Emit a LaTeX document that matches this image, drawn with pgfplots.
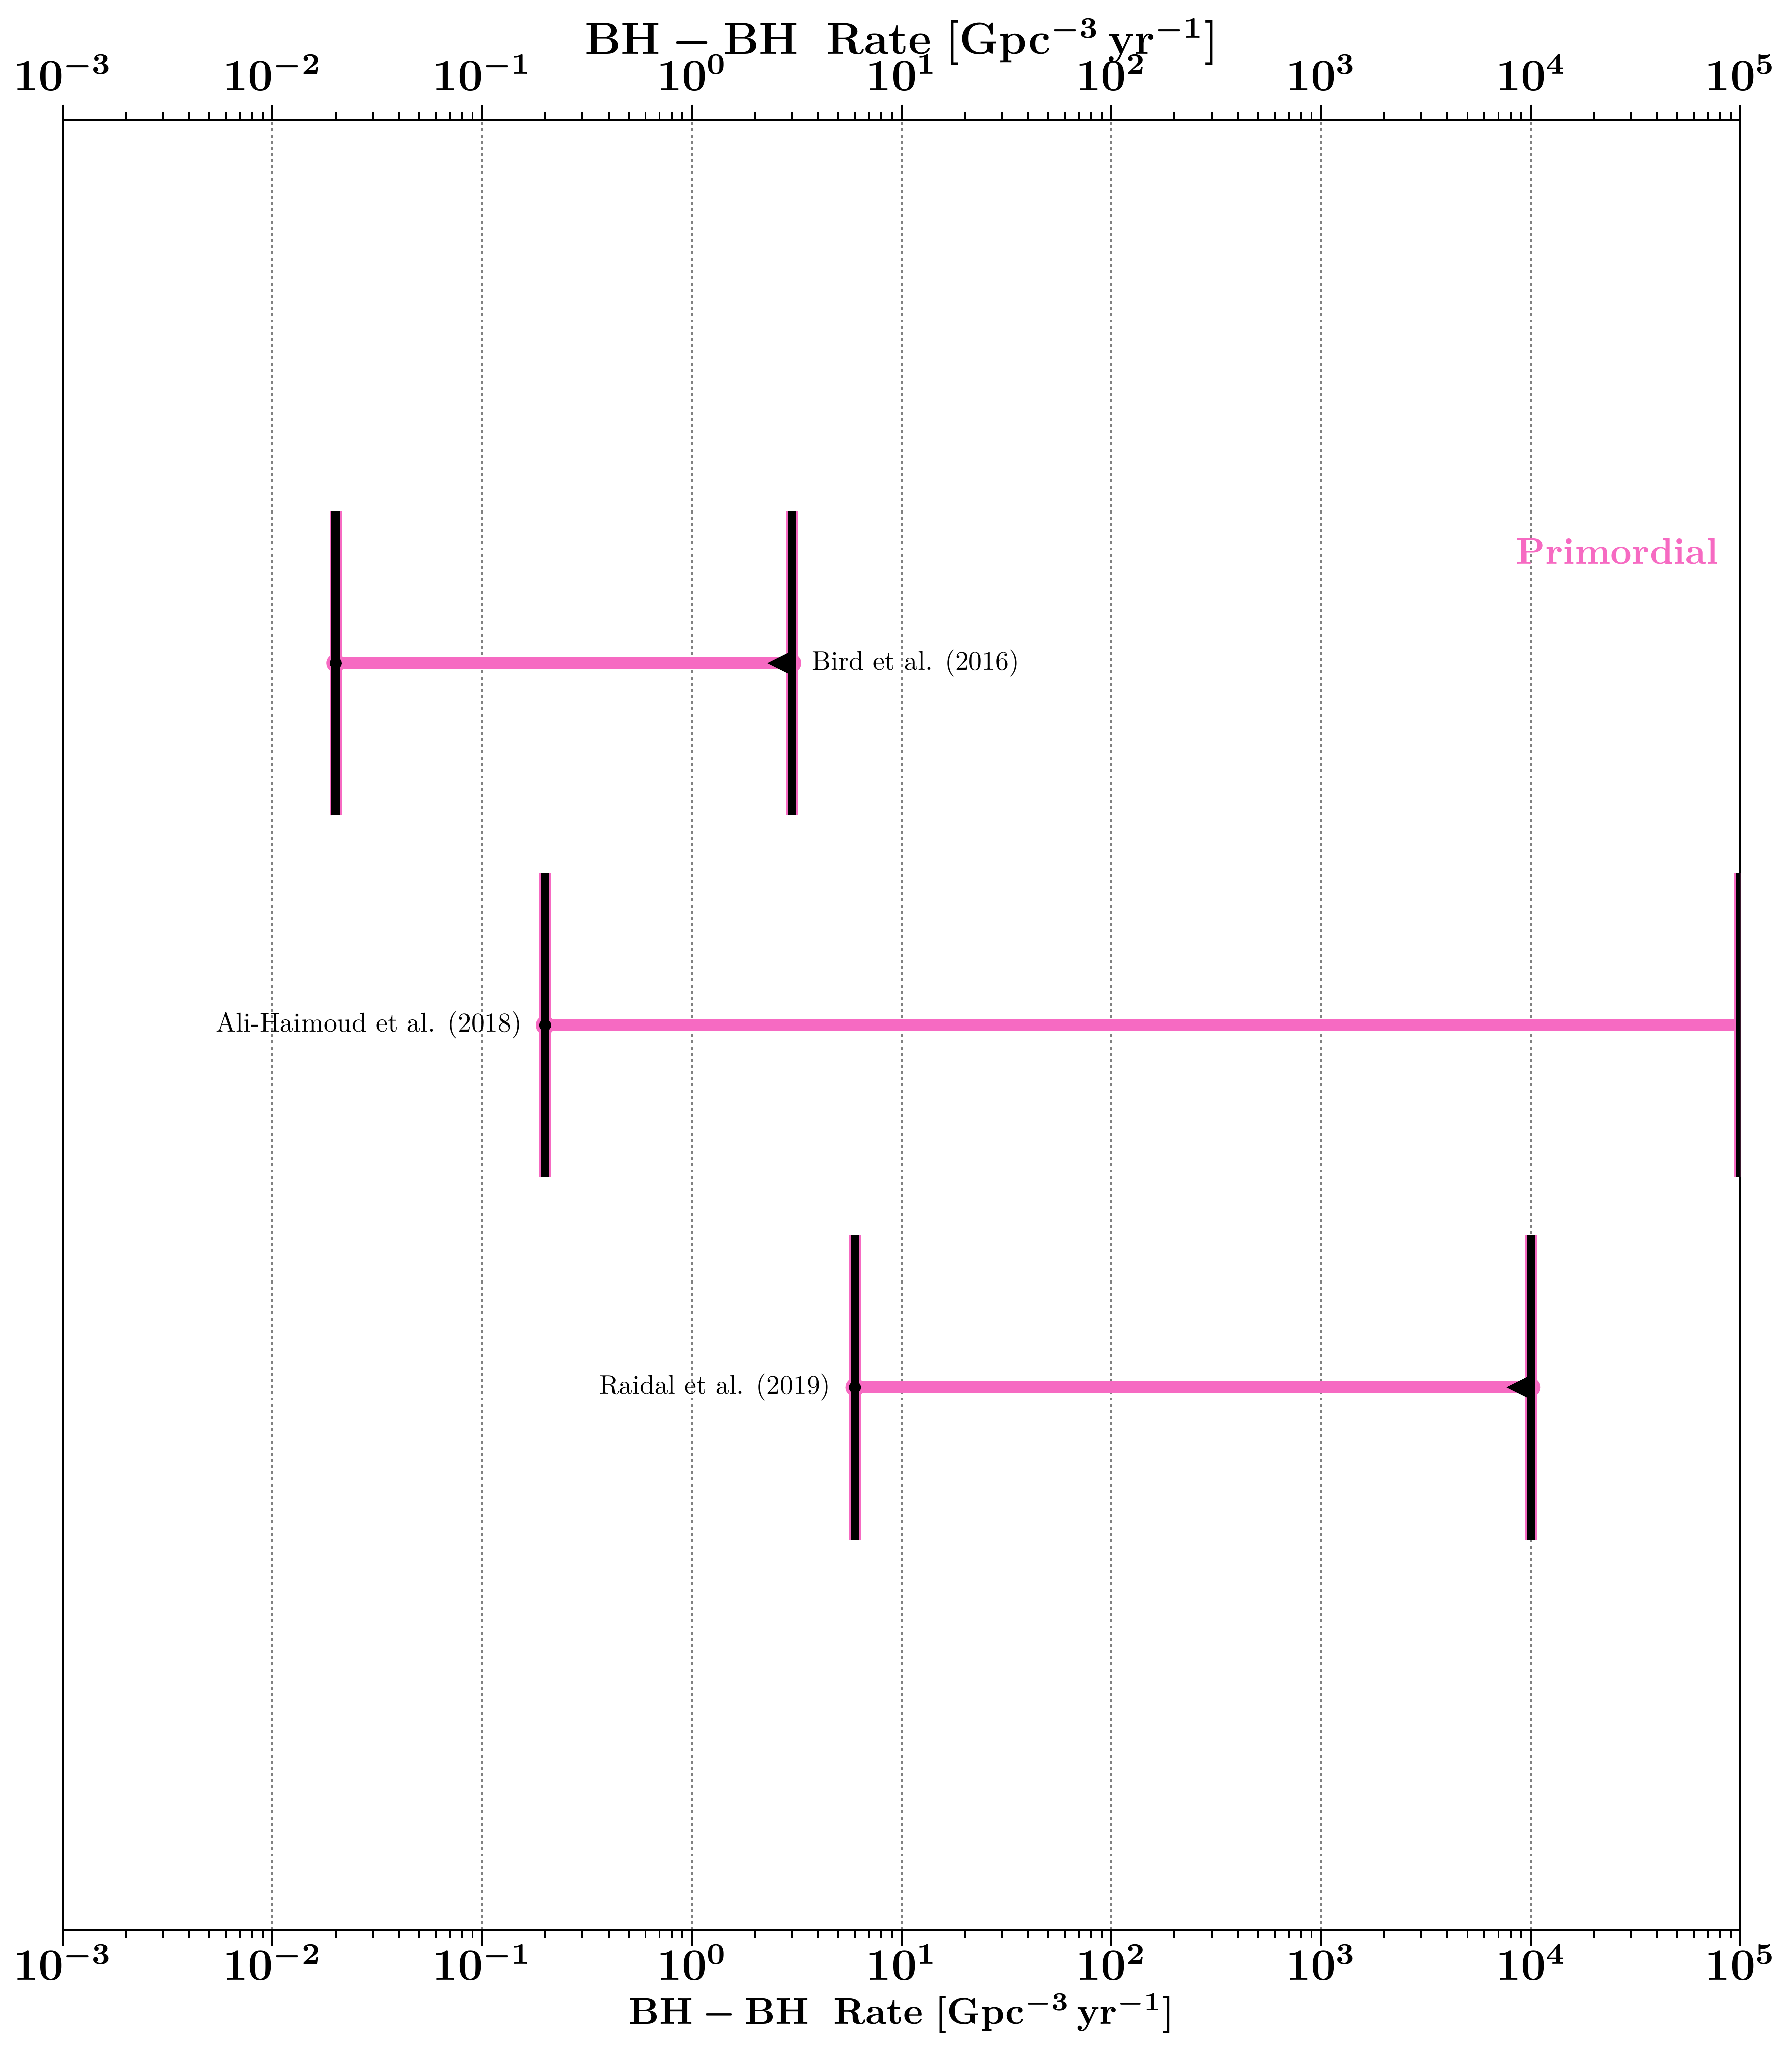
\documentclass[border=0pt]{standalone}
\usepackage{pgfplots}
\pgfplotsset{compat=1.18}
\definecolor{pk}{HTML}{F66AC2}
\pgfdeclareplotmark{ltri}{%
  \pgfpathmoveto{\pgfqpoint{-6.6pt}{0pt}}%
  \pgfpathlineto{\pgfqpoint{0.9pt}{-3.75pt}}%
  \pgfpathlineto{\pgfqpoint{0.9pt}{3.75pt}}%
  \pgfpathclose\pgfusepathqfill}
\begin{document}
\begin{tikzpicture}
\begin{axis}[
    scale only axis, width=449.5pt, height=484.8pt,
    xmode=log, xmin=1e-3, xmax=1e5, ymin=-0.5, ymax=4.5,
    xtick={1e-3,1e-2,1e-1,1,1e1,1e2,1e3,1e4,1e5},
    xticklabels={$10^{-3}$,$10^{-2}$,$10^{-1}$,$10^{0}$,$10^{1}$,$10^{2}$,$10^{3}$,$10^{4}$,$10^{5}$},
    tick align=outside,
    major tick length=4.2pt, minor tick length=2.1pt,
    every tick/.append style={black, line width=0.5pt},
    axis line style={line width=0.5pt},
    xticklabel style={font=\fontsize{12}{14}\selectfont\boldmath, anchor=base, yshift=-9.2pt},
    xlabel={$\mathbf{BH-BH\ \ Rate\ [Gpc^{-3}\,yr^{-1}]}$},
    xlabel style={font=\fontsize{9.75}{12}\selectfont\boldmath, at={(axis description cs:0.5,0)}, anchor=base, yshift=-25.2pt},
    ytick=\empty,
    name=ax, xtick pos=bottom, xmajorgrids,
    grid style={gray, line width=0.6pt, dash pattern=on 0.8pt off 0.85pt},
    clip mode=individual]
% Bird et al. (2016)
\addplot[pk, line width=3.2pt, mark=*, mark size=2.5pt, mark options={solid, fill=pk, line width=0.01pt}] coordinates {(0.02,3) (3,3)};
\addplot[pk, line width=3.2pt] coordinates {(0.02,2.58) (0.02,3.42)};
\addplot[black, line width=2.3pt] coordinates {(0.02,2.58) (0.02,3.42)};
\addplot[pk, line width=3.2pt] coordinates {(3,2.58) (3,3.42)};
\addplot[black, line width=2.3pt] coordinates {(3,2.58) (3,3.42)};
\addplot[only marks, mark=*, mark size=1.4pt, black] coordinates {(0.02,3)};
\addplot[only marks, mark=ltri, black] coordinates {(3,3)};
% Ali-Haimoud et al. (2018)
\addplot[pk, line width=3.2pt, mark=*, mark size=2.5pt, mark indices={1}, mark options={solid, fill=pk, line width=0.01pt}] coordinates {(0.2,2) (1e5,2)};
\addplot[pk, line width=3.2pt] coordinates {(0.2,1.58) (0.2,2.42)};
\addplot[black, line width=2.3pt] coordinates {(0.2,1.58) (0.2,2.42)};
\addplot[pk, line width=3.2pt] coordinates {(1e5,1.58) (1e5,2.42)};
\addplot[black, line width=2.3pt] coordinates {(1e5,1.58) (1e5,2.42)};
\addplot[only marks, mark=*, mark size=1.4pt, black] coordinates {(0.2,2)};
% Raidal et al. (2019)
\addplot[pk, line width=3.2pt, mark=*, mark size=2.5pt, mark options={solid, fill=pk, line width=0.01pt}] coordinates {(6,1) (1e4,1)};
\addplot[pk, line width=3.2pt] coordinates {(6,0.58) (6,1.42)};
\addplot[black, line width=2.3pt] coordinates {(6,0.58) (6,1.42)};
\addplot[pk, line width=3.2pt] coordinates {(1e4,0.58) (1e4,1.42)};
\addplot[black, line width=2.3pt] coordinates {(1e4,0.58) (1e4,1.42)};
\addplot[only marks, mark=*, mark size=1.4pt, black] coordinates {(6,1)};
\addplot[only marks, mark=ltri, black] coordinates {(1e4,1)};
% labels
\node[anchor=west, inner sep=0pt, font=\fontsize{10}{12}\selectfont, xshift=5.2pt] at (axis cs:3,3) {\scalebox{0.72}{Bird et al. (2016)}};
\node[anchor=east, inner sep=0pt, font=\fontsize{10}{12}\selectfont, xshift=-6pt] at (axis cs:0.2,2) {\scalebox{0.72}{Ali-Haimoud et al. (2018)}};
\node[anchor=east, inner sep=0pt, font=\fontsize{10}{12}\selectfont, xshift=-6.3pt] at (axis cs:6,1) {\scalebox{0.72}{Raidal et al. (2019)}};
\node[anchor=east, inner sep=0pt, text=pk, font=\fontsize{10}{12}\selectfont\bfseries] at (axis cs:7.9e4,3.31) {Primordial};
\end{axis}
\begin{axis}[
    scale only axis, width=449.5pt, height=484.8pt,
    xmode=log, xmin=1e-3, xmax=1e5, ymin=-0.5, ymax=4.5,
    xtick={1e-3,1e-2,1e-1,1,1e1,1e2,1e3,1e4,1e5},
    xticklabels={$10^{-3}$,$10^{-2}$,$10^{-1}$,$10^{0}$,$10^{1}$,$10^{2}$,$10^{3}$,$10^{4}$,$10^{5}$},
    tick align=outside,
    major tick length=4.2pt, minor tick length=2.1pt,
    every tick/.append style={black, line width=0.5pt},
    axis line style={line width=0.5pt},
    xticklabel style={font=\fontsize{12}{14}\selectfont\boldmath, anchor=base, yshift=3.8pt},
    xlabel={$\mathbf{BH-BH\ \ Rate\ [Gpc^{-3}\,yr^{-1}]}$},
    xlabel style={font=\fontsize{11.6}{14}\selectfont\boldmath, at={(axis description cs:0.5,1)}, anchor=base, yshift=17.7pt},
    ytick=\empty,
    axis x line*=top, axis y line=none, xticklabel pos=upper]
\end{axis}
\pgfresetboundingbox
\path ([shift={(-16.8pt,-32.6pt)}]ax.south west) rectangle ([shift={(13.7pt,32.2pt)}]ax.north east);
\end{tikzpicture}
\end{document}
